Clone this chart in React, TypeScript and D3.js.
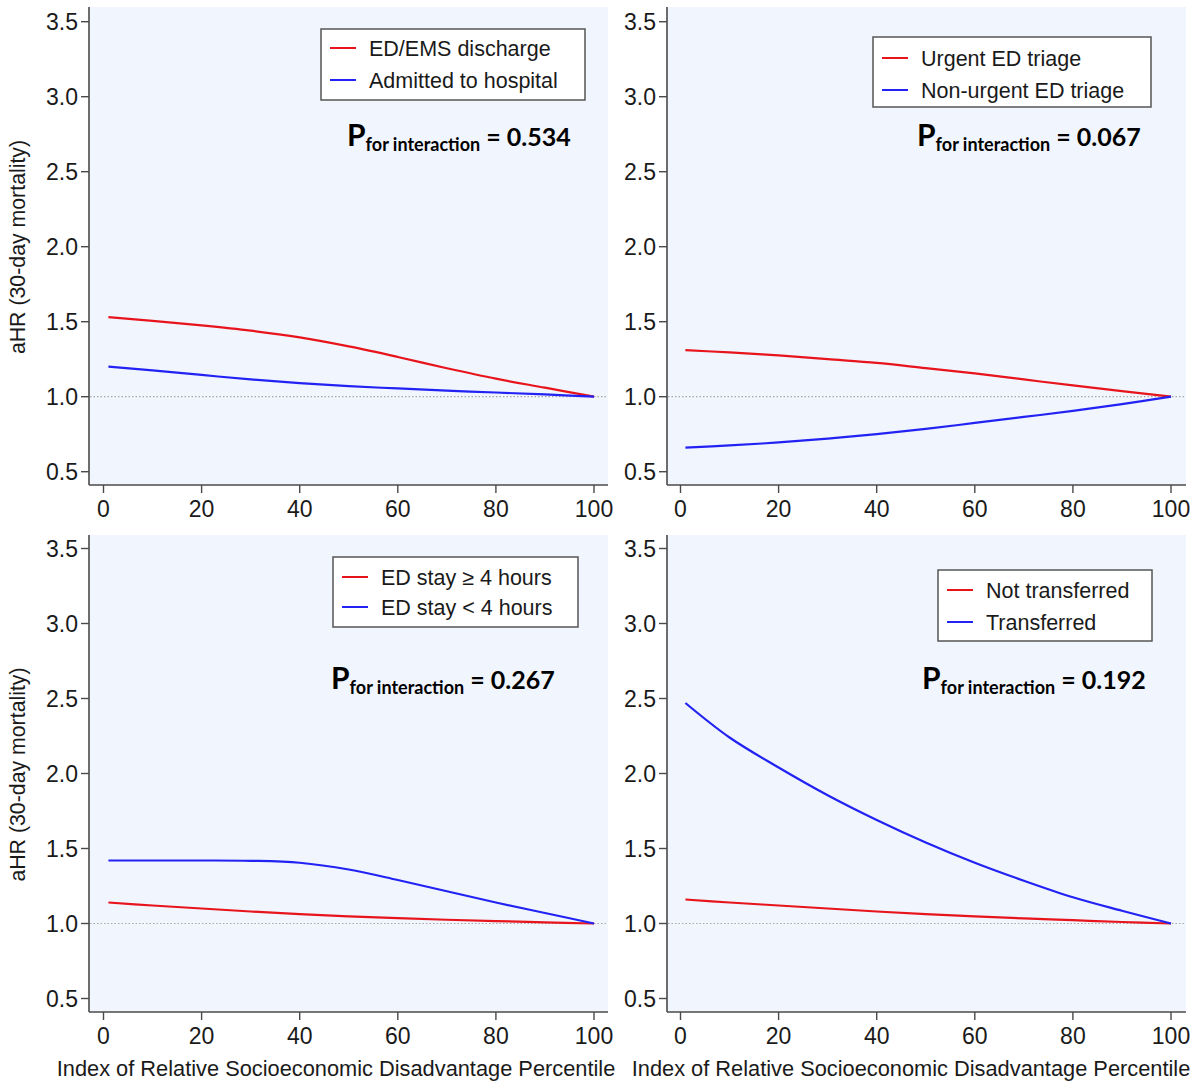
import React from "react";
import * as d3 from "d3";

// ---------- DATA ----------
const xVals = [1, 10, 20, 30, 40, 50, 60, 70, 80, 90, 100];
const xTicks = [0, 20, 40, 60, 80, 100];
const yTicks = [0.5, 1.0, 1.5, 2.0, 2.5, 3.0, 3.5];

const edDischarge = [1.53, 1.505, 1.475, 1.44, 1.395, 1.335, 1.265, 1.19, 1.12, 1.06, 1.0];
const admitted = [1.2, 1.175, 1.145, 1.115, 1.09, 1.07, 1.055, 1.04, 1.028, 1.015, 1.0];
const urgentTriage = [1.31, 1.295, 1.275, 1.25, 1.225, 1.19, 1.155, 1.115, 1.075, 1.037, 1.0];
const nonUrgentTriage = [0.66, 0.675, 0.695, 0.72, 0.75, 0.785, 0.825, 0.865, 0.905, 0.95, 1.0];
const stayLong = [1.14, 1.12, 1.1, 1.08, 1.062, 1.048, 1.036, 1.025, 1.016, 1.008, 1.0];
const stayShort = [1.42, 1.42, 1.42, 1.418, 1.405, 1.36, 1.29, 1.215, 1.14, 1.07, 1.0];
const notTransferred = [1.16, 1.14, 1.12, 1.1, 1.08, 1.062, 1.047, 1.034, 1.022, 1.01, 1.0];
const transferred = [2.47, 2.24, 2.04, 1.855, 1.69, 1.54, 1.405, 1.285, 1.175, 1.085, 1.0];

const redLabels = ["ED/EMS discharge", "Urgent ED triage", "ED stay \u2265 4 hours", "Not transferred"];
const blueLabels = ["Admitted to hospital", "Non-urgent ED triage", "ED stay < 4 hours", "Transferred"];
const pValues = ["0.534", "0.067", "0.267", "0.192"];
const redSeries = [edDischarge, urgentTriage, stayLong, notTransferred];
const blueSeries = [admitted, nonUrgentTriage, stayShort, transferred];

const yTitle = "aHR (30-day mortality)";
const xTitle = "Index of Relative Socioeconomic Disadvantage Percentile";

// ---------- LAYOUT ----------
const RED = "#e8141c";
const BLUE = "#2222f4";
const BG = "#f1f5fd";
const AX = "#4a4a4a";
const SANS = "'Liberation Sans', Arial, Helvetica, sans-serif";
const PFONT = "Lato, 'Open Sans', sans-serif";

type Layout = {
  axisX: number; bgRight: number; x0: number; x100: number;
  top: number; axisY: number; y35: number; y05: number;
  legend: { x: number; y: number; w: number; h: number; row1: number; row2: number };
  p: { x: number; y: number };
  showYTitle: boolean; xTitleX: number | null;
};

const layouts: Layout[] = [
  { axisX: 89, bgRight: 608, x0: 103.5, x100: 594, top: 7, axisY: 485, y35: 21.7, y05: 471.7,
    legend: { x: 321, y: 29, w: 264, h: 71, row1: 48, row2: 80 }, p: { x: 347, y: 146 },
    showYTitle: true, xTitleX: null },
  { axisX: 667, bgRight: 1186, x0: 680.5, x100: 1171, top: 7, axisY: 485, y35: 21.7, y05: 471.7,
    legend: { x: 873, y: 37, w: 278, h: 70, row1: 58, row2: 90 }, p: { x: 917, y: 146 },
    showYTitle: false, xTitleX: null },
  { axisX: 89, bgRight: 608, x0: 103.5, x100: 594, top: 535, axisY: 1012, y35: 548.5, y05: 998.5,
    legend: { x: 333, y: 557, w: 245, h: 70, row1: 577, row2: 607 }, p: { x: 331, y: 689 },
    showYTitle: true, xTitleX: 336 },
  { axisX: 667, bgRight: 1186, x0: 680.5, x100: 1171, top: 535, axisY: 1012, y35: 548.5, y05: 998.5,
    legend: { x: 938, y: 570, w: 214, h: 71, row1: 590, row2: 622 }, p: { x: 922, y: 689 },
    showYTitle: false, xTitleX: 911 },
];

function Panel({ i }: { i: number }) {
  const L = layouts[i];
  const x = d3.scaleLinear().domain([0, 100]).range([L.x0, L.x100]);
  const y = d3.scaleLinear().domain([0.5, 3.5]).range([L.y05, L.y35]);
  const line = d3
    .line<number>()
    .x((_, k) => x(xVals[k]))
    .y((v) => y(v))
    .curve(d3.curveCatmullRom.alpha(0.5));
  const tickLen = 8;
  return (
    <g>
      <rect x={L.axisX} y={L.top} width={L.bgRight - L.axisX} height={L.axisY - L.top} fill={BG} />
      <line x1={L.axisX + 1} x2={L.bgRight} y1={y(1)} y2={y(1)} stroke="#a8a8a8" strokeWidth={1.2} strokeDasharray="1.5,2" />
      <line x1={L.axisX} x2={L.axisX} y1={L.top} y2={L.axisY} stroke={AX} strokeWidth={1.6} />
      <line x1={L.axisX} x2={L.bgRight} y1={L.axisY} y2={L.axisY} stroke={AX} strokeWidth={1.6} />
      {yTicks.map((t) => (
        <g key={"y" + t}>
          <line x1={L.axisX - tickLen} x2={L.axisX} y1={y(t)} y2={y(t)} stroke={AX} strokeWidth={1.4} />
          <text x={L.axisX - tickLen - 3} y={y(t)} dy="0.36em" textAnchor="end" fontFamily={SANS} fontSize={23} fill="#1a1a1a">
            {d3.format(".1f")(t)}
          </text>
        </g>
      ))}
      {xTicks.map((t) => (
        <g key={"x" + t}>
          <line x1={x(t)} x2={x(t)} y1={L.axisY} y2={L.axisY + tickLen} stroke={AX} strokeWidth={1.4} />
          <text x={x(t)} y={L.axisY + 32} textAnchor="middle" fontFamily={SANS} fontSize={23} fill="#1a1a1a">
            {t}
          </text>
        </g>
      ))}
      {L.showYTitle && (
        <text
          transform={`translate(25,${(L.top + L.axisY) / 2 + 1}) rotate(-90)`}
          textAnchor="middle"
          fontFamily={SANS}
          fontSize={21.3}
          fill="#1a1a1a"
        >
          {yTitle}
        </text>
      )}
      {L.xTitleX !== null && (
        <text x={L.xTitleX} y={1076} textAnchor="middle" fontFamily={SANS} fontSize={21.8} fill="#1a1a1a">
          {xTitle}
        </text>
      )}
      <path d={line(redSeries[i]) || ""} fill="none" stroke={RED} strokeWidth={2.2} />
      <path d={line(blueSeries[i]) || ""} fill="none" stroke={BLUE} strokeWidth={2.2} />
      <rect x={L.legend.x} y={L.legend.y} width={L.legend.w} height={L.legend.h} fill="#ffffff" stroke="#555" strokeWidth={1.5} />
      <line x1={L.legend.x + 9} x2={L.legend.x + 35} y1={L.legend.row1} y2={L.legend.row1} stroke={RED} strokeWidth={2} />
      <line x1={L.legend.x + 9} x2={L.legend.x + 35} y1={L.legend.row2} y2={L.legend.row2} stroke={BLUE} strokeWidth={2} />
      <text x={L.legend.x + 48} y={L.legend.row1} dy="0.36em" fontFamily={SANS} fontSize={21.5} fill="#1a1a1a">
        {redLabels[i]}
      </text>
      <text x={L.legend.x + 48} y={L.legend.row2} dy="0.36em" fontFamily={SANS} fontSize={21.5} fill="#1a1a1a">
        {blueLabels[i]}
      </text>
      <text x={L.p.x} y={L.p.y} fontFamily={PFONT} fontWeight="bold" fill="#000">
        <tspan fontSize={30}>P</tspan>
        <tspan fontSize={18} dy={5}>for interaction</tspan>
        <tspan fontSize={25} dy={-5}>{" = " + pValues[i]}</tspan>
      </text>
    </g>
  );
}

export default function App() {
  return (
    <svg
      width={1204}
      height={1084}
      viewBox="0 0 1204 1084"
      style={{ position: "absolute", left: 0, top: 0, background: "#fff" }}
    >
      <rect x={0} y={0} width={1204} height={1084} fill="#fff" />
      {[0, 1, 2, 3].map((i) => (
        <Panel key={i} i={i} />
      ))}
    </svg>
  );
}
